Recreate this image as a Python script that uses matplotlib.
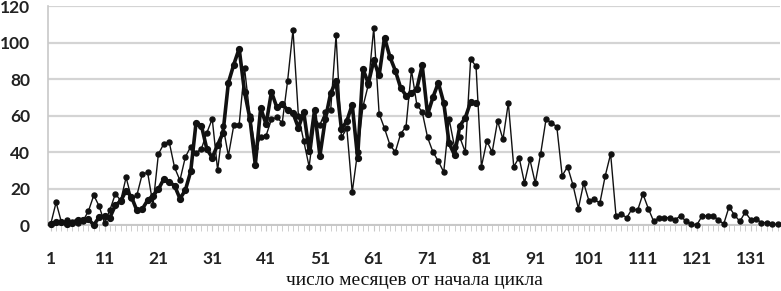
import matplotlib
matplotlib.use("Agg")
import matplotlib.pyplot as plt
import numpy as np

# Series 1 (thin line, earlier cycle), monthly values
thin_values = [
    0.5, 12.4, 1.4, 2.8, 1.4, 0.9, 2.3, 7.6, 16.3, 10.3,
    1.1, 8.3, 17.0, 13.5, 26.1, 14.6, 16.3, 27.9, 28.8, 11.1,
    38.9, 44.5, 45.6, 31.6, 24.5, 37.2, 43.0, 39.5, 41.9, 50.6,
    58.2, 30.1, 54.2, 38.0, 54.6, 55.0, 86.0, 60.0, 42.0, 48.0,
    49.0, 58.0, 59.0, 56.0, 79.0, 107.0, 60.0, 46.0, 32.0, 56.0,
    55.0, 62.0, 63.0, 104.0, 48.0, 53.0, 18.0, 40.0, 65.0, 77.0,
    108.0, 61.0, 53.0, 44.0, 40.0, 50.0, 54.0, 85.0, 66.0, 62.0,
    48.0, 40.0, 35.0, 29.0, 58.0, 43.0, 48.0, 40.0, 91.0, 87.0,
    32.0, 46.0, 40.0, 57.0, 47.0, 67.0, 32.0, 37.0, 23.0, 36.0,
    23.0, 39.0, 58.0, 56.0, 54.0, 27.0, 32.0, 22.0, 9.0, 23.0,
    13.0, 14.0, 12.0, 27.0, 39.0, 5.0, 6.0, 4.0, 9.0, 8.0,
    17.0, 9.0, 2.0, 4.0, 4.0, 4.0, 3.0, 5.0, 2.0, 0.5,
    0.0, 5.0, 5.0, 5.0, 3.0, 0.5, 10.0, 5.5, 2.0, 7.0,
    3.0, 3.5, 1.3, 1.3, 0.4, 0.4,
]

# Series 2 (thick line, current cycle), monthly values
thick_values = [
    0.8, 1.5, 1.4, 0.7, 1.2, 2.9, 2.9, 3.2, 0.0, 4.3,
    4.8, 4.1, 10.8, 13.2, 18.8, 15.4, 8.0, 8.7, 13.6, 16.1,
    19.6, 25.2, 23.5, 21.6, 14.5, 19.0, 29.4, 56.2, 54.4, 41.6,
    37.0, 43.9, 50.6, 78.0, 88.0, 96.7, 73.0, 58.3, 33.1, 64.2,
    55.2, 73.0, 64.5, 66.5, 63.0, 61.4, 53.3, 61.8, 40.8, 62.9,
    38.0, 57.9, 72.4, 78.7, 52.5, 57.0, 66.0, 37.0, 85.6, 77.6,
    90.3, 82.0, 102.8, 92.2, 84.7, 75.2, 71.0, 72.4, 74.6, 87.6,
    60.6, 70.1, 78.0, 67.0, 44.8, 38.4, 54.4, 58.8, 67.5, 66.7,
]

x_ticks = [1, 11, 21, 31, 41, 51, 61, 71, 81, 91, 101, 111, 121, 131]
y_ticks = [0, 20, 40, 60, 80, 100, 120]
x_label = "число месяцев от начала цикла"

months_thin = np.arange(1, len(thin_values) + 1)
months_thick = np.arange(1, len(thick_values) + 1)

fig = plt.figure(figsize=(7.81, 2.91), dpi=100)
ax = fig.add_axes([0.0615, 0.2268, 0.9375, 0.752])

ax.plot(months_thin, thin_values, color="#111111", lw=1.0, marker="o",
        ms=3.6, zorder=3, clip_on=False)
ax.plot(months_thick, thick_values, color="#111111", lw=2.6, marker="o",
        ms=4.2, zorder=4, clip_on=False)

ax.set_xlim(0.5, len(thin_values) + 0.5)
ax.set_ylim(0, 120)
ax.set_yticks(y_ticks)
ax.set_xticks(x_ticks)
ax.set_xticks(np.arange(1, len(thin_values) + 1), minor=True)

ax.yaxis.grid(True, color="#d4d4d4", lw=1.6, zorder=0)
ax.set_axisbelow(True)

for side in ["top", "right"]:
    ax.spines[side].set_visible(False)
ax.spines["left"].set_color("#c8c8c8")
ax.spines["left"].set_linewidth(1.2)
ax.spines["bottom"].set_color("#c8c8c8")
ax.spines["bottom"].set_linewidth(1.4)

ax.tick_params(axis="y", length=0, pad=13, labelsize=12.5)
ax.tick_params(axis="x", which="major", length=4, color="#c8c8c8",
               pad=15, labelsize=12.5)
ax.tick_params(axis="x", which="minor", length=4, color="#c8c8c8")

for lab in ax.get_xticklabels() + ax.get_yticklabels():
    lab.set_fontweight("bold")
    lab.set_fontfamily("Lato")
    lab.set_color("#222222")

ax.set_xlabel(x_label, fontfamily="Liberation Serif", fontsize=14,
              labelpad=3, color="#111111")

fig.savefig("out.png", dpi=100)
